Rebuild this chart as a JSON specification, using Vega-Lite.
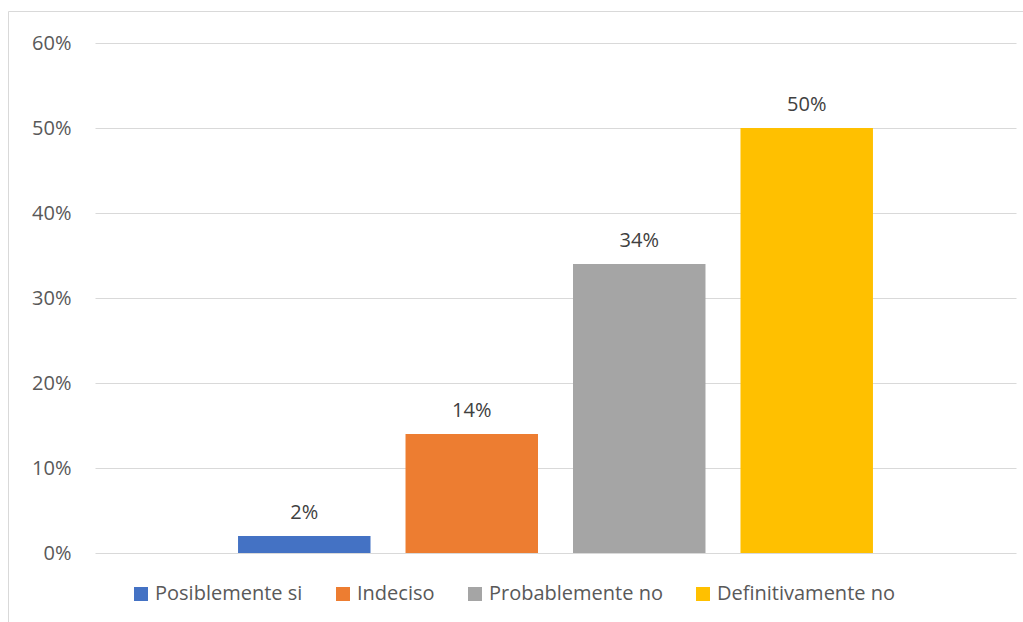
{
  "$schema": "https://vega.github.io/schema/vega-lite/v6.json",
  "autosize": {"type": "none"},
  "padding": {"left": 8, "top": 11, "right": 0, "bottom": 0},
  "width": 1015,
  "height": 611,
  "background": "white",
  "config": {
    "view": {"stroke": "#D9D9D9", "strokeWidth": 1, "fill": "white"},
    "font": "Open Sans"
  },
  "data": {
    "values": [
      {"respuesta": "Posiblemente si", "pct": 0.02},
      {"respuesta": "Indeciso", "pct": 0.14},
      {"respuesta": "Probablemente no", "pct": 0.34},
      {"respuesta": "Definitivamente no", "pct": 0.50}
    ]
  },
  "encoding": {
    "x": {
      "field": "respuesta",
      "type": "nominal",
      "sort": null,
      "axis": null,
      "scale": {"range": [87, 1008], "paddingInner": 0.209, "paddingOuter": 0.854}
    },
    "y": {
      "field": "pct",
      "type": "quantitative",
      "scale": {"domain": [0, 0.6], "range": [542, 32], "nice": false, "zero": true},
      "axis": {
        "title": null,
        "format": ".0%",
        "values": [0, 0.1, 0.2, 0.3, 0.4, 0.5, 0.6],
        "grid": true,
        "gridColor": "#D9D9D9",
        "gridWidth": 1,
        "domain": false,
        "ticks": false,
        "tickSize": 0,
        "labelPadding": 0,
        "offset": -63,
        "labelFont": "Open Sans",
        "labelFontSize": 20,
        "labelColor": "#595959"
      }
    }
  },
  "layer": [
    {
      "mark": {"type": "bar"},
      "encoding": {
        "color": {
          "field": "respuesta",
          "type": "nominal",
          "sort": null,
          "scale": {"range": ["#4472C4", "#ED7D31", "#A5A5A5", "#FFC000"]},
          "legend": {
            "title": null,
            "orient": "none",
            "legendX": 123,
            "legendY": 573,
            "direction": "horizontal",
            "padding": 0,
            "symbolType": "square",
            "symbolSize": 196,
            "symbolStrokeWidth": 0,
            "labelFont": "Open Sans",
            "labelFontSize": 20,
            "labelColor": "#595959",
            "labelOffset": 4,
            "labelLimit": 300,
            "columnPadding": 30
          }
        }
      }
    },
    {
      "mark": {
        "type": "text",
        "baseline": "alphabetic",
        "dy": -17,
        "font": "Open Sans",
        "fontSize": 20,
        "color": "#404040"
      },
      "encoding": {
        "text": {"field": "pct", "type": "quantitative", "format": ".0%"}
      }
    }
  ]
}
